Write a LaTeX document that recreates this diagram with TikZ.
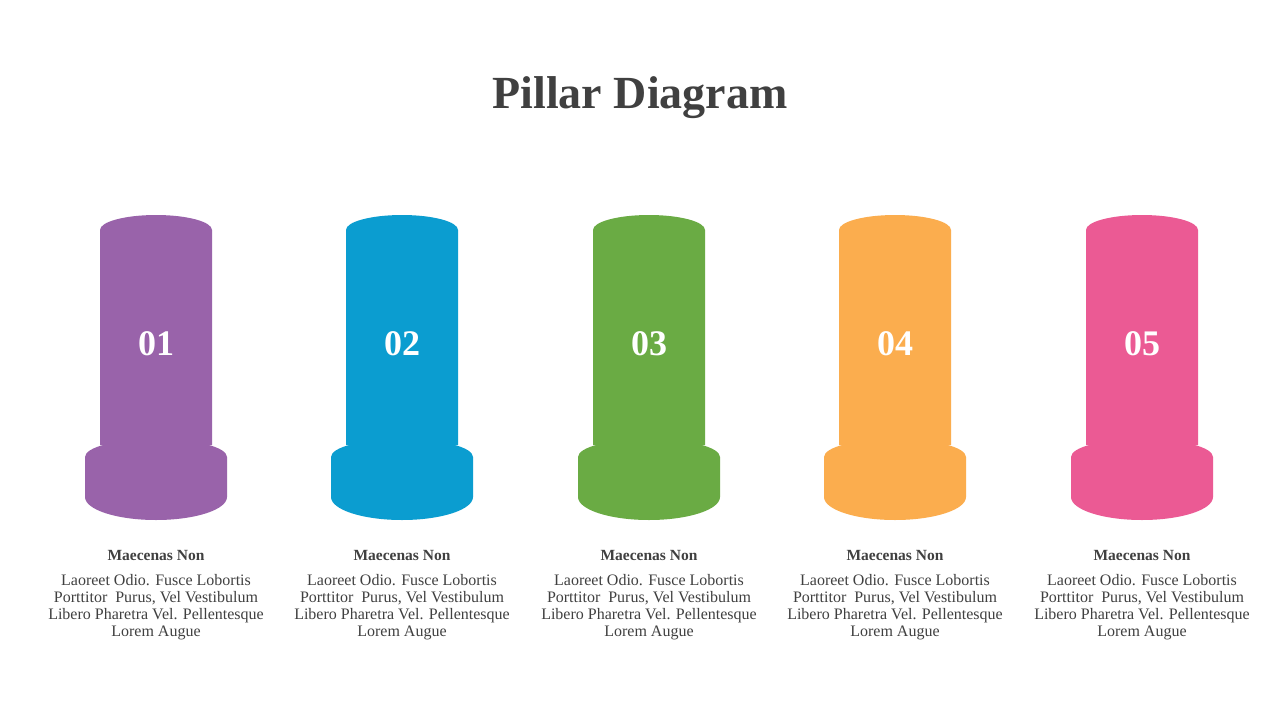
\documentclass[tikz,border=0pt]{standalone}
\usepackage{fontspec}
\setmainfont{Liberation Serif}
\definecolor{txtgray}{HTML}{404040}
\definecolor{pilpurple}{HTML}{9963AA}
\definecolor{pilblue}{HTML}{0B9DD0}
\definecolor{pilgreen}{HTML}{6AAB44}
\definecolor{pilorange}{HTML}{FBAD4E}
\definecolor{pilpink}{HTML}{EB5A94}
\tikzset{
  pilnum/.style={text=white, font=\fontsize{36}{40}\selectfont\bfseries},
  pilhead/.style={text=txtgray, font=\fontsize{15.5}{17}\selectfont\bfseries},
  piltext/.style={text=txtgray, align=center, font=\fontsize{16}{17}\selectfont, anchor=north}
}
\begin{document}
\begin{tikzpicture}[x=1pt, y=-1pt]

	\useasboundingbox [fill=white] (0, 0) rectangle (1280, 720);

	\node [text=txtgray, font=\fontsize{46}{50}\selectfont\bfseries] (title) at (640, 98) {Pillar Diagram};

	% pillars: shaft with round top, then the wider foot
	\fill [pilpurple] (100, 445) -- (100, 230) arc [start angle=180, end angle=0, x radius=56pt, y radius=15pt] -- (212, 445) -- cycle;
	\fill [pilpurple] (85, 457) arc [start angle=180, end angle=0, x radius=71pt, y radius=18pt] -- (227, 497) arc [start angle=0, end angle=-180, x radius=71pt, y radius=23pt] -- cycle;

	\fill [pilblue] (346, 445) -- (346, 230) arc [start angle=180, end angle=0, x radius=56pt, y radius=15pt] -- (458, 445) -- cycle;
	\fill [pilblue] (331, 457) arc [start angle=180, end angle=0, x radius=71pt, y radius=18pt] -- (473, 497) arc [start angle=0, end angle=-180, x radius=71pt, y radius=23pt] -- cycle;

	\fill [pilgreen] (593, 445) -- (593, 230) arc [start angle=180, end angle=0, x radius=56pt, y radius=15pt] -- (705, 445) -- cycle;
	\fill [pilgreen] (578, 457) arc [start angle=180, end angle=0, x radius=71pt, y radius=18pt] -- (720, 497) arc [start angle=0, end angle=-180, x radius=71pt, y radius=23pt] -- cycle;

	\fill [pilorange] (839, 445) -- (839, 230) arc [start angle=180, end angle=0, x radius=56pt, y radius=15pt] -- (951, 445) -- cycle;
	\fill [pilorange] (824, 457) arc [start angle=180, end angle=0, x radius=71pt, y radius=18pt] -- (966, 497) arc [start angle=0, end angle=-180, x radius=71pt, y radius=23pt] -- cycle;

	\fill [pilpink] (1086, 445) -- (1086, 230) arc [start angle=180, end angle=0, x radius=56pt, y radius=15pt] -- (1198, 445) -- cycle;
	\fill [pilpink] (1071, 457) arc [start angle=180, end angle=0, x radius=71pt, y radius=18pt] -- (1213, 497) arc [start angle=0, end angle=-180, x radius=71pt, y radius=23pt] -- cycle;

	\node [pilnum] (num1) at (156, 344) {01};
	\node [pilnum] (num2) at (402, 344) {02};
	\node [pilnum] (num3) at (649, 344) {03};
	\node [pilnum] (num4) at (895, 344) {04};
	\node [pilnum] (num5) at (1142, 344) {05};

	\node [pilhead] (head1) at (156, 555) {Maecenas Non};
	\node [pilhead] (head2) at (402, 555) {Maecenas Non};
	\node [pilhead] (head3) at (649, 555) {Maecenas Non};
	\node [pilhead] (head4) at (895, 555) {Maecenas Non};
	\node [pilhead] (head5) at (1142, 555) {Maecenas Non};

	\node [piltext] (text1) at (156, 571) {Laoreet Odio. Fusce Lobortis\\Porttitor\ \ Purus, Vel Vestibulum\\Libero Pharetra Vel. Pellentesque\\Lorem Augue};
	\node [piltext] (text2) at (402, 571) {Laoreet Odio. Fusce Lobortis\\Porttitor\ \ Purus, Vel Vestibulum\\Libero Pharetra Vel. Pellentesque\\Lorem Augue};
	\node [piltext] (text3) at (649, 571) {Laoreet Odio. Fusce Lobortis\\Porttitor\ \ Purus, Vel Vestibulum\\Libero Pharetra Vel. Pellentesque\\Lorem Augue};
	\node [piltext] (text4) at (895, 571) {Laoreet Odio. Fusce Lobortis\\Porttitor\ \ Purus, Vel Vestibulum\\Libero Pharetra Vel. Pellentesque\\Lorem Augue};
	\node [piltext] (text5) at (1142, 571) {Laoreet Odio. Fusce Lobortis\\Porttitor\ \ Purus, Vel Vestibulum\\Libero Pharetra Vel. Pellentesque\\Lorem Augue};

\end{tikzpicture}
\end{document}
